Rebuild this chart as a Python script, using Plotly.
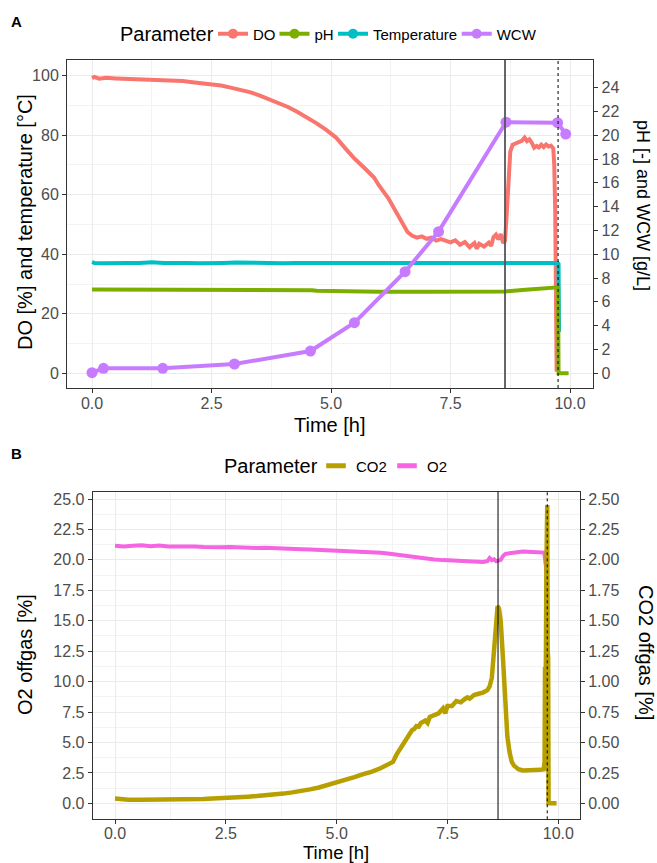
import plotly.graph_objects as go

# ---------------- Data ----------------
# Panel A: online signals
do_t = [0.00, 0.05, 0.15, 0.3, 0.5, 0.7, 0.9, 1.1, 1.3, 1.5, 1.7, 1.9, 2.1, 2.3, 2.5, 2.7, 2.9,
        3.1, 3.3, 3.5, 3.7, 3.9, 4.1, 4.3, 4.5, 4.7, 4.9, 5.1, 5.3, 5.5, 5.7, 5.9, 6.0, 6.1,
        6.2, 6.3, 6.4, 6.5, 6.6, 6.7, 6.8, 6.9, 7.0, 7.1, 7.2, 7.3, 7.4, 7.5, 7.6, 7.7, 7.8,
        7.9, 8.0, 8.05, 8.1, 8.2, 8.3, 8.35, 8.4, 8.45, 8.5, 8.55, 8.6, 8.64, 8.67, 8.70,
        8.72, 8.75, 8.8, 8.9, 9.0, 9.05, 9.1, 9.15, 9.2, 9.25, 9.3, 9.35, 9.4, 9.45, 9.5,
        9.55, 9.6, 9.65, 9.67, 9.69, 9.70, 9.71, 9.72]
do_v = [99.2, 99.6, 99.0, 99.3, 99.1, 99.0, 98.9, 98.8, 98.7, 98.6, 98.3, 98.2, 97.8, 97.5,
        97.1, 96.7, 96.0, 95.4, 94.5, 93.4, 92.1, 91.0, 89.5, 87.8, 86.0, 84.0, 81.8, 79.3,
        75.6, 72.0, 69.0, 65.8, 63.2, 61.0, 58.8, 56.0, 53.2, 49.8, 47.5, 46.2, 45.6, 46.0,
        45.2, 45.6, 44.6, 45.1, 44.5, 44.0, 44.7, 43.2, 44.1, 42.4, 43.8, 41.9, 43.5, 42.6,
        43.9, 42.8, 45.8, 46.6, 45.0, 46.8, 43.8, 44.5, 52.0, 63.0, 70.0, 74.5, 76.8, 77.5,
        78.2, 79.2, 78.0, 78.6, 77.5, 75.8, 76.4, 75.9, 76.8, 76.0, 76.9, 76.2, 76.5, 75.5,
        70.0, 55.0, 20.0, 5.0, 0.5]

ph_t = [0.0, 1.0, 2.0, 3.0, 3.6, 4.0, 4.6, 4.7, 5.26, 6.0, 7.0, 8.0, 8.47, 8.64, 9.0, 9.4,
        9.72, 9.75, 9.76, 9.97]
ph_v = [7.05, 7.05, 7.05, 7.05, 7.04, 7.0, 6.98, 6.94, 6.88, 6.86, 6.86, 6.86, 6.86, 6.88,
        7.0, 7.1, 7.22, 7.22, 0.0, 0.0]

temp_t = [0.0, 0.05, 0.25, 0.5, 0.75, 1.0, 1.25, 1.5, 1.75, 2.0, 2.25, 2.5, 2.75, 3.0, 3.25,
          3.5, 3.75, 4.0, 4.25, 4.5, 4.75, 5.0, 5.25, 5.5, 5.75, 6.0, 6.25, 6.5, 6.75, 7.0,
          7.25, 7.5, 7.75, 8.0, 8.25, 8.5, 8.75, 9.0, 9.25, 9.5, 9.74, 9.76, 9.77]
temp_v = [37.4, 37.1, 37.0, 37.2, 37.1, 37.1, 37.3, 37.1, 37.2, 37.1, 37.0, 37.2, 37.1, 37.2,
          37.1, 37.1, 37.2, 37.0, 37.1, 37.1, 37.0, 37.1, 37.0, 37.1, 37.0, 37.0, 37.1, 37.0,
          37.0, 37.0, 37.1, 37.0, 37.0, 37.0, 37.1, 37.0, 37.2, 37.1, 37.2, 37.1, 37.1, 36.8,
          14.0]

wcw_t = [0.0, 0.24, 1.48, 2.98, 4.57, 5.49, 6.55, 7.25, 8.66, 9.74, 9.91]
wcw_v = [0.05, 0.42, 0.42, 0.78, 1.87, 4.25, 8.54, 11.9, 21.1, 21.05, 20.1]

# Panel B: offgas
o2_t = [0.0, 0.2, 0.4, 0.6, 0.8, 1.0, 1.2, 1.4, 1.6, 1.8, 2.0, 2.2, 2.4, 2.6, 2.8, 3.0, 3.2,
        3.4, 3.6, 3.8, 4.0, 4.2, 4.4, 4.6, 4.8, 5.0, 5.2, 5.4, 5.6, 5.8, 6.0, 6.2, 6.4, 6.6,
        6.8, 7.0, 7.2, 7.4, 7.6, 7.8, 8.0, 8.2, 8.3, 8.4, 8.45, 8.5, 8.55, 8.6, 8.64, 8.7,
        8.75, 8.8, 8.9, 9.0, 9.1, 9.2, 9.3, 9.4, 9.5, 9.6, 9.68, 9.72, 9.73]
o2_v = [21.15, 21.1, 21.15, 21.2, 21.12, 21.18, 21.1, 21.12, 21.08, 21.1, 21.05, 21.08, 21.03,
        21.05, 21.0, 21.02, 20.98, 21.0, 20.95, 20.93, 20.92, 20.88, 20.85, 20.82, 20.8,
        20.76, 20.72, 20.68, 20.66, 20.62, 20.58, 20.5, 20.4, 20.28, 20.18, 20.08, 20.04,
        19.98, 19.94, 19.88, 19.85, 19.88, 19.82, 19.9, 20.15, 19.98, 20.05, 19.88, 19.9,
        20.0, 20.3, 20.48, 20.55, 20.6, 20.65, 20.68, 20.66, 20.64, 20.62, 20.62, 20.6,
        19.5, 19.0]

co2_t = [0.0, 0.1, 0.3, 0.6, 0.9, 1.2, 1.5, 1.8, 2.0, 2.2, 2.4, 2.6, 2.8, 3.0, 3.2, 3.4, 3.6,
         3.8, 4.0, 4.2, 4.4, 4.6, 4.8, 5.0, 5.2, 5.4, 5.6, 5.8, 6.0, 6.1, 6.2, 6.27, 6.35,
         6.45, 6.55, 6.65, 6.7, 6.75, 6.8, 6.85, 6.9, 7.0, 7.05, 7.1, 7.2, 7.3, 7.4, 7.45,
         7.5, 7.6, 7.7, 7.8, 7.9, 7.95, 8.0, 8.1, 8.2, 8.3, 8.4, 8.45, 8.5, 8.55, 8.6, 8.63,
         8.66, 8.7, 8.75, 8.8, 8.85, 8.9, 8.95, 9.0, 9.1, 9.2, 9.3, 9.4, 9.5, 9.6, 9.67, 9.69,
         9.70, 9.71, 9.72, 9.73, 9.75, 9.76, 9.77, 9.78, 9.96]
co2_v = [0.04, 0.035, 0.03, 0.03, 0.03, 0.032, 0.03, 0.033, 0.035, 0.04, 0.042, 0.045, 0.05,
         0.055, 0.06, 0.065, 0.072, 0.08, 0.09, 0.1, 0.115, 0.13, 0.15, 0.17, 0.19, 0.215,
         0.24, 0.26, 0.29, 0.305, 0.33, 0.34, 0.4, 0.46, 0.51, 0.57, 0.6, 0.61, 0.635, 0.63,
         0.66, 0.68, 0.66, 0.71, 0.73, 0.74, 0.78, 0.74, 0.8, 0.8, 0.84, 0.83, 0.86, 0.87,
         0.86, 0.89, 0.9, 0.91, 0.93, 0.96, 1.03, 1.25, 1.5, 1.62, 1.6, 1.5, 1.2, 0.8, 0.55,
         0.42, 0.34, 0.31, 0.28, 0.27, 0.27, 0.275, 0.275, 0.275, 0.28, 0.34, 1.12, 0.9, 1.2,
         1.9, 2.45, 1.25, 1.2, 0.0, 0.0]

event_solid = 8.64
event_dashed = 9.75

x_ticks = [0, 2.5, 5, 7.5, 10]
a_left_ticks = [0, 20, 40, 60, 80, 100]
a_right_ticks = list(range(0, 26, 2))
b_left_ticks = [0, 2.5, 5, 7.5, 10, 12.5, 15, 17.5, 20, 22.5, 25]
b_right_ticks = [0, 0.25, 0.5, 0.75, 1.0, 1.25, 1.5, 1.75, 2.0, 2.25, 2.5]

legend_a_names = ["DO", "pH", "Temperature", "WCW"]
legend_b_names = ["CO2", "O2"]

# ---------------- Style ----------------
W, H = 657, 863
FONT = "Liberation Sans, Arial, sans-serif"
C_DO, C_PH, C_T, C_W = "#F8766D", "#7CAE00", "#00BFC4", "#C77CFF"
C_CO2, C_O2 = "#B79F00", "#F564E3"
GRID = "#EBEBEB"
MINOR = "#F3F3F3"
TICKC = "#4D4D4D"
LW = 4

# legend key centres (px) for the single-entry legends
KEY_A = [233, 294.5, 353, 476.7]
KEY_B = [336, 407]
LEG_A_Y = 34
LEG_B_Y = 466


def fx(p):
    return p / W


def fy(p):
    return 1 - p / H


fig = go.Figure()

# Panel A data
fig.add_trace(go.Scatter(x=do_t, y=do_v, mode="lines", line=dict(color=C_DO, width=LW),
                         xaxis="x", yaxis="y", showlegend=False))
fig.add_trace(go.Scatter(x=ph_t, y=ph_v, mode="lines", line=dict(color=C_PH, width=LW),
                         xaxis="x", yaxis="y2", showlegend=False))
fig.add_trace(go.Scatter(x=temp_t, y=temp_v, mode="lines", line=dict(color=C_T, width=LW),
                         xaxis="x", yaxis="y", showlegend=False))
fig.add_trace(go.Scatter(x=wcw_t, y=wcw_v, mode="lines+markers",
                         line=dict(color=C_W, width=LW), marker=dict(color=C_W, size=11),
                         xaxis="x", yaxis="y2", showlegend=False))

# Panel B data
fig.add_trace(go.Scatter(x=co2_t, y=co2_v, mode="lines", line=dict(color=C_CO2, width=4.5),
                         xaxis="x2", yaxis="y4", showlegend=False))
fig.add_trace(go.Scatter(x=o2_t, y=o2_v, mode="lines", line=dict(color=C_O2, width=LW),
                         xaxis="x2", yaxis="y3", showlegend=False))

# Legend entries (one legend per entry so each can be placed like the ggplot guide)
legend_layouts = {}
li = 1
for name, col, kx in zip(legend_a_names, [C_DO, C_PH, C_T, C_W], KEY_A):
    lname = "legend" if li == 1 else f"legend{li}"
    fig.add_trace(go.Scatter(x=[None], y=[None], mode="lines+markers", name=name,
                             line=dict(color=col, width=LW), marker=dict(color=col, size=10),
                             xaxis="x", yaxis="y", legend=lname))
    legend_layouts[lname] = dict(orientation="h", x=fx(kx - 20), y=fy(LEG_A_Y), xanchor="left",
                                 yanchor="middle", font=dict(size=15, family=FONT),
                                 itemwidth=30, bgcolor="rgba(0,0,0,0)")
    li += 1
for name, col, kx in zip(legend_b_names, [C_CO2, C_O2], KEY_B):
    lname = f"legend{li}"
    fig.add_trace(go.Scatter(x=[None], y=[None], mode="markers", name=name,
                             marker=dict(symbol="line-ew", size=14, color=col,
                                         line=dict(color=col, width=5)),
                             xaxis="x2", yaxis="y3", legend=lname))
    legend_layouts[lname] = dict(orientation="h", x=fx(kx - 20), y=fy(LEG_B_Y), xanchor="left",
                                 yanchor="middle", font=dict(size=15, family=FONT),
                                 itemwidth=30, bgcolor="rgba(0,0,0,0)")
    li += 1

# Event lines
shapes = []
for xr, yr, solid_col, solid_w in [("x", "y domain", "#555555", 1.8), ("x2", "y3 domain", "black", 1)]:
    shapes.append(dict(type="line", xref=xr, yref=yr, x0=event_solid, x1=event_solid, y0=0, y1=1,
                       line=dict(color=solid_col, width=solid_w), layer="above"))
    shapes.append(dict(type="line", xref=xr, yref=yr, x0=event_dashed, x1=event_dashed, y0=0, y1=1,
                       line=dict(color="black", width=1, dash="3px,3px"), layer="above"))


def xax(domain, rng, anchor, standoff):
    return dict(domain=domain, range=rng, anchor=anchor, tickvals=x_ticks,
                ticktext=[f"{v:.1f}" for v in x_ticks], showgrid=True, gridcolor=GRID,
                gridwidth=1.1, minor=dict(dtick=1.25, tick0=0, showgrid=True, gridcolor=MINOR,
                                          gridwidth=0.6),
                showline=True, linecolor="#333333", linewidth=1, mirror=True,
                ticks="outside", ticklen=4, tickcolor="#333333", ticklabelstandoff=standoff,
                tickfont=dict(size=16, color=TICKC, family=FONT), zeroline=False)


def yax(domain, rng, anchor, ticks, fmt, minor_dt):
    return dict(domain=domain, range=rng, anchor=anchor, tickvals=ticks,
                ticktext=[fmt.format(v) for v in ticks], showgrid=True, gridcolor=GRID,
                gridwidth=1.1, minor=dict(dtick=minor_dt, tick0=0, showgrid=True,
                                          gridcolor=MINOR, gridwidth=0.6),
                showline=True, linecolor="#333333", linewidth=1, mirror=True,
                ticks="outside", ticklen=4, tickcolor="#333333",
                tickfont=dict(size=16, color=TICKC, family=FONT), zeroline=False)


def y2ax(rng, anchor, overlay, ticks, fmt):
    return dict(range=rng, anchor=anchor, overlaying=overlay, side="right", tickvals=ticks,
                ticktext=[fmt.format(v) for v in ticks], showgrid=False, zeroline=False,
                showline=True, linecolor="#333333", linewidth=1,
                ticks="outside", ticklen=4, tickcolor="#333333",
                tickfont=dict(size=16, color=TICKC, family=FONT))


a_dom_x = [fx(67), fx(593.3)]
a_dom_y = [fy(388), fy(60)]
b_dom_x = [fx(92.7), fx(580)]
b_dom_y = [fy(819.3), fy(491.7)]

ann = []


def txt(x, y, s, size=20, angle=0, bold=False, color="black"):
    ann.append(dict(x=fx(x), y=fy(y), xref="paper", yref="paper",
                    text=(f"<b>{s}</b>" if bold else s),
                    showarrow=False, textangle=angle, xanchor="center", yanchor="middle",
                    font=dict(size=size, color=color, family=FONT)))


txt(16, 21, "A", size=15, bold=True)
txt(16, 453, "B", size=15, bold=True)
txt(167, LEG_A_Y, "Parameter", size=20)
txt(271, LEG_B_Y, "Parameter", size=20)
txt(25, 222, "DO [%] and temperature [°C]", angle=-90)
txt(643, 205, "pH [-] and WCW [g/L]", size=18, angle=90)
txt(330, 425, "Time [h]")
txt(25, 655, "O2 offgas [%]", angle=-90)
txt(646, 652, "CO2 offgas [%]", angle=90)
txt(336, 852, "Time [h]", size=18.5)

fig.update_layout(
    width=W, height=H, margin=dict(l=0, r=0, t=0, b=0),
    paper_bgcolor="white", plot_bgcolor="white",
    font=dict(family=FONT, color="black"),
    xaxis=xax(a_dom_x, [-0.523, 10.487], "y", -3),
    yaxis=yax(a_dom_y, [-4.94, 105.28], "x", a_left_ticks, "{:d}", 10),
    yaxis2=y2ax([-1.235, 26.32], "x", "y", a_right_ticks, "{:d}"),
    xaxis2=xax(b_dom_x, [-0.503, 10.489], "y3", -5),
    yaxis3=yax(b_dom_y, [-1.31, 25.6], "x2", b_left_ticks, "{:.1f}", 1.25),
    yaxis4=y2ax([-0.131, 2.56], "x2", "y3", b_right_ticks, "{:.2f}"),
    shapes=shapes,
    annotations=ann,
    **legend_layouts,
)

fig.write_html("out.html")
